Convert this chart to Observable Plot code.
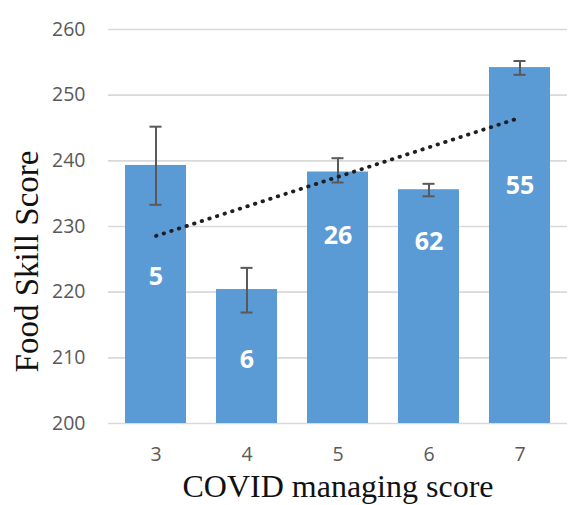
<!DOCTYPE html>
<html>
<head>
<meta charset="utf-8">
<script src="https://cdn.jsdelivr.net/npm/d3@7"></script>
<script src="https://cdn.jsdelivr.net/npm/@observablehq/plot@0.6"></script>
<style>
  html, body { margin: 0; padding: 0; background: #fff; }
</style>
</head>
<body>
<div id="chart"></div>
<script>
// Data
const categories = ["3", "4", "5", "6", "7"];
const means      = [239.3, 220.4, 238.3, 235.6, 254.2];
const errLow     = [233.3, 216.9, 236.7, 234.6, 253.1];
const errHigh    = [245.2, 223.7, 240.4, 236.5, 255.2];
const counts     = ["5", "6", "26", "62", "55"];
const countLabelY = [222.3, 209.7, 228.5, 227.6, 236.2];
const yTicks     = [200, 210, 220, 230, 240, 250, 260];
const xTitle = "COVID managing score";
const yTitle = "Food Skill Score";

const rows = categories.map((c, i) => ({
  cat: c, mean: means[i], lo: errLow[i], hi: errHigh[i], n: counts[i], ly: countLabelY[i]
}));

// Linear trend line (least squares of the means over the category number)
const xs = categories.map(Number);
const mx = d3.mean(xs), my = d3.mean(means);
const slope = d3.sum(xs, (x, i) => (x - mx) * (means[i] - my)) / d3.sum(xs, x => (x - mx) ** 2);
const trend = categories.map((c, i) => ({cat: c, fit: my + slope * (xs[i] - mx)}));

const chart = Plot.plot({
  width: 576,
  height: 505,
  marginLeft: 108,
  marginRight: 9,
  marginTop: 29,
  marginBottom: 82,
  style: {fontFamily: "'Open Sans', sans-serif", fontSize: "19.5px", color: "#595959", background: "#fff"},
  x: {type: "band", domain: categories, paddingInner: 0.325, paddingOuter: 0.1625, label: null},
  y: {domain: [200, 260], label: null},
  marks: [
    Plot.gridY(yTicks, {stroke: "#d9d9d9", strokeOpacity: 1, strokeWidth: 1.6}),
    Plot.barY(rows, {x: "cat", y1: 200, y2: "mean", fill: "#5b9bd5"}),
    Plot.ruleX(rows, {x: "cat", y1: "lo", y2: "hi", stroke: "#595959", strokeWidth: 2}),
    Plot.tickY(rows, {x: "cat", y: "lo", stroke: "#595959", strokeWidth: 2, insetLeft: 24.5, insetRight: 24.5}),
    Plot.tickY(rows, {x: "cat", y: "hi", stroke: "#595959", strokeWidth: 2, insetLeft: 24.5, insetRight: 24.5}),
    Plot.line(trend, {x: "cat", y: "fit", stroke: "#1e1e24", strokeWidth: 3.8, strokeDasharray: "0.5 7.5", strokeLinecap: "round"}),
    Plot.text(rows, {x: "cat", y: "ly", text: "n", fill: "#fff", fontWeight: "bold", fontSize: 25, lineAnchor: "middle"}),
    Plot.axisY(yTicks, {tickSize: 0, tickPadding: 23, fill: "#595959"}),
    Plot.axisX({tickSize: 0, tickPadding: 24, fill: "#595959"}),
    Plot.text([xTitle], {frameAnchor: "bottom", dy: 73, lineAnchor: "bottom", fontFamily: "'Liberation Serif', 'Times New Roman', serif", fontSize: 32, fill: "#111"}),
    Plot.text([yTitle], {frameAnchor: "left", dx: -71, dy: 35, rotate: -90, textAnchor: "middle", lineAnchor: "bottom", fontFamily: "'Liberation Serif', 'Times New Roman', serif", fontSize: 33, fill: "#111"})
  ]
});
document.getElementById("chart").appendChild(chart);
</script>
</body>
</html>
